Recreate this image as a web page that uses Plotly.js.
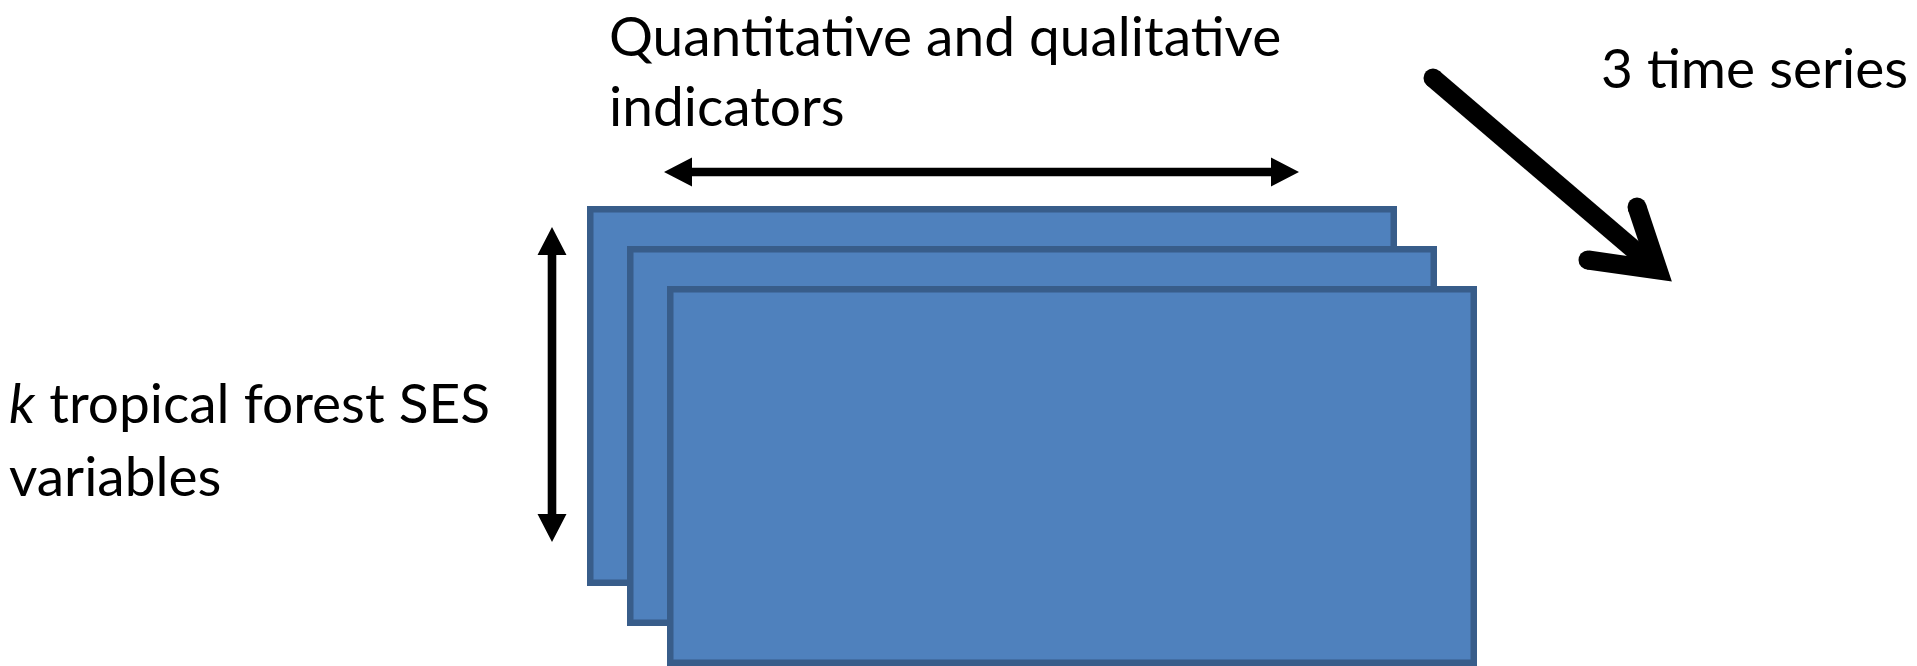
<!DOCTYPE html>
<html>
<head>
<meta charset="utf-8">
<script src="https://cdn.plot.ly/plotly-3.0.1.min.js"></script>
<style>html,body{margin:0;padding:0;background:#fff;}#chart{width:1917px;height:666px;}</style>
</head>
<body>
<div id="chart"></div>
<script>
// ---- content ----
const timeSeries = ['t1', 't2', 't3'];                       // 3 stacked layers
const topLabel = ['Quantitative and qualitative', 'indicators'];
const leftLabel = ['<i>k</i> tropical forest SES', 'variables'];
const seriesLabel = ['3 time series'];

// ---- styling / geometry (pixel space) ----
const W = 1917, H = 666;
const FILL = '#4f81bd', EDGE = '#385d8a';
const FONT = {family: 'Lato, "Open Sans", sans-serif', size: 55, color: '#000'};

const shapes = [];
// stacked rectangles
const base = {x0: 587, y0: 206, w: 810, h: 380}, step = 40, bw = 6.5;
timeSeries.forEach((t, i) => {
  const ox = base.x0 + i * step, oy = base.y0 + i * step;
  shapes.push({type: 'rect', xref: 'x', yref: 'y',
    x0: ox + bw / 2, x1: ox + base.w - bw / 2, y0: oy + bw / 2, y1: oy + base.h - bw / 2,
    fillcolor: FILL, line: {color: EDGE, width: bw}, layer: 'above'});
});

function dblArrowH(y, xl, xr, hl, hh, sh) {
  return `M${xl},${y} L${xl+hl},${y-hh} L${xl+hl},${y-sh} L${xr-hl},${y-sh} L${xr-hl},${y-hh} L${xr},${y} L${xr-hl},${y+hh} L${xr-hl},${y+sh} L${xl+hl},${y+sh} L${xl+hl},${y+hh} Z`;
}
function dblArrowV(x, yt, yb, hl, hh, sh) {
  return `M${x},${yt} L${x+hh},${yt+hl} L${x+sh},${yt+hl} L${x+sh},${yb-hl} L${x+hh},${yb-hl} L${x},${yb} L${x-hh},${yb-hl} L${x-sh},${yb-hl} L${x-sh},${yt+hl} L${x-hh},${yt+hl} Z`;
}
shapes.push({type: 'path', path: dblArrowH(172, 664, 1299, 28, 14.5, 4.3),
  fillcolor: '#000', line: {width: 0}, layer: 'above'});
shapes.push({type: 'path', path: dblArrowV(552, 227, 542, 28, 14.5, 4.3),
  fillcolor: '#000', line: {width: 0}, layer: 'above'});

// thick diagonal arrow with open (chevron) head
const start = [1433, 78], vertex = [1658, 270], b1 = [1637, 207], b2 = [1588, 260], lw = 19;
shapes.push({type: 'line', x0: start[0], y0: start[1], x1: vertex[0] - 6, y1: vertex[1] - 5,
  line: {color: '#000', width: lw}, layer: 'above'});
shapes.push({type: 'path', path: `M${b1[0]},${b1[1]} L${vertex[0]},${vertex[1]} L${b2[0]},${b2[1]}`,
  line: {color: '#000', width: lw}, fillcolor: 'rgba(0,0,0,0)', layer: 'above'});
[start, b1, b2].forEach(p => {
  shapes.push({type: 'circle', x0: p[0] - lw / 2, x1: p[0] + lw / 2, y0: p[1] - lw / 2, y1: p[1] + lw / 2,
    fillcolor: '#000', line: {width: 0}, layer: 'above'});
});

// ---- text ----
const annotations = [];
function addLines(lines, x, baselines) {
  lines.forEach((t, i) => annotations.push({x: x, y: baselines[i], xref: 'x', yref: 'y',
    text: t, showarrow: false, xanchor: 'left', yanchor: 'middle', font: FONT}));
}
const mid = -20; // baseline -> box middle offset
addLines(topLabel, 607, [55 + mid, 125 + mid]);
addLines(leftLabel, 7, [422 + mid, 495 + mid]);
addLines(seriesLabel, 1599, [87 + mid]);

const layout = {
  width: W, height: H, margin: {l: 0, r: 0, t: 0, b: 0},
  paper_bgcolor: '#fff', plot_bgcolor: '#fff', showlegend: false,
  xaxis: {range: [0, W], visible: false, fixedrange: true},
  yaxis: {range: [H, 0], visible: false, fixedrange: true},
  shapes: shapes, annotations: annotations
};
Plotly.newPlot('chart', [], layout, {staticPlot: true, displayModeBar: false});
</script>
</body>
</html>
